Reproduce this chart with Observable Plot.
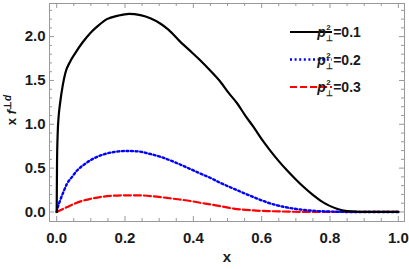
<!DOCTYPE html>
<html><head><meta charset="utf-8">
<script src="https://cdn.jsdelivr.net/npm/d3@7"></script>
<script src="https://cdn.jsdelivr.net/npm/@observablehq/plot@0.6"></script>
<style>body{margin:0;background:#fff}</style>
</head><body><div id="chart"></div>
<script>
// Series (x, x f)
const blackX = [0,0.001,0.003,0.006,0.010,0.018,0.025,0.040,0.054,0.075,0.098,0.120,0.147,0.180,0.212,0.245,0.274,0.303,0.327,0.362,0.390,0.420,0.450,0.479,0.505,0.528,0.552,0.576,0.600,0.625,0.650,0.674,0.700,0.723,0.748,0.772,0.796,0.820,0.850,0.880,0.900,1.0];
const blackY = [0,0.55,0.90,1.10,1.24,1.45,1.58,1.72,1.81,1.93,2.04,2.12,2.20,2.24,2.26,2.245,2.21,2.15,2.08,1.94,1.84,1.73,1.61,1.485,1.35,1.24,1.10,0.97,0.83,0.70,0.58,0.475,0.37,0.284,0.20,0.13,0.075,0.037,0.01,0.002,0,0];
const blueX = [0,0.003,0.010,0.020,0.030,0.045,0.059,0.080,0.108,0.140,0.170,0.205,0.240,0.270,0.303,0.350,0.391,0.425,0.449,0.480,0.518,0.560,0.576,0.615,0.660,0.713,0.760,0.800,0.850,1.0];
const blueY = [0,0.05,0.13,0.23,0.32,0.40,0.47,0.54,0.61,0.66,0.685,0.696,0.69,0.665,0.63,0.56,0.49,0.43,0.39,0.33,0.265,0.195,0.17,0.11,0.062,0.028,0.011,0.004,0,0];
const redX = [0,0.030,0.050,0.078,0.100,0.127,0.160,0.200,0.235,0.280,0.323,0.360,0.391,0.420,0.449,0.479,0.518,0.576,0.615,0.660,0.720,0.800,1.0];
const redY = [0,0.055,0.09,0.13,0.15,0.17,0.183,0.19,0.19,0.18,0.16,0.142,0.125,0.105,0.086,0.066,0.038,0.017,0.01,0.005,0.001,0,0];
const seriesLabels = ["0.1","0.2","0.3"];
const xMajor = [0,0.2,0.4,0.6,0.8,1.0];
const xMinor = [0.05,0.1,0.15,0.25,0.3,0.35,0.45,0.5,0.55,0.65,0.7,0.75,0.85,0.9,0.95];
const yMajor = [0,0.5,1.0,1.5,2.0];
const yMinor = [0.1,0.2,0.3,0.4,0.6,0.7,0.8,0.9,1.1,1.2,1.3,1.4,1.6,1.7,1.8,1.9,2.1,2.2,2.3];

const W = 409, H = 269, mt = 3, mr = 5, mb = 48, ml = 49;
const iH = H - mt - mb, iW = W - ml - mr;
const zip = (xs, ys) => xs.map((x, i) => ({x, y: ys[i]}));
const tc = "#999";
const font = "'Liberation Sans', Arial, sans-serif";
const txt = "#1a1a1a";

const chart = Plot.plot({
  width: W, height: H, marginTop: mt, marginRight: mr, marginBottom: mb, marginLeft: ml,
  style: {fontFamily: font, background: "#fff"},
  x: {domain: [-0.021, 1.018], ticks: xMajor, tickFormat: d3.format(".1f")},
  y: {domain: [-0.109, 2.378], ticks: yMajor, tickFormat: d3.format(".1f")},
  marks: [
    Plot.frame({stroke: tc}),
    Plot.tickX(xMajor, {x: d => d, insetTop: iH - 5, stroke: tc}),
    Plot.tickX(xMajor, {x: d => d, insetBottom: iH - 5, stroke: tc}),
    Plot.tickX(xMinor, {x: d => d, insetTop: iH - 3, stroke: tc}),
    Plot.tickX(xMinor, {x: d => d, insetBottom: iH - 3, stroke: tc}),
    Plot.tickY(yMajor, {y: d => d, insetRight: iW - 5, stroke: tc}),
    Plot.tickY(yMajor, {y: d => d, insetLeft: iW - 5, stroke: tc}),
    Plot.tickY(yMinor, {y: d => d, insetRight: iW - 3, stroke: tc}),
    Plot.tickY(yMinor, {y: d => d, insetLeft: iW - 3, stroke: tc}),
    Plot.axisX({tickSize: 0, tickPadding: 11, fontSize: 15, fontWeight: "bold", label: null, fill: txt}),
    Plot.axisY({tickSize: 0, tickPadding: 4, fontSize: 15, fontWeight: "bold", label: null, fill: txt}),
    Plot.text(["x"], {frameAnchor: "bottom", dy: 40, text: d => d, fontSize: 15, fontWeight: "bold", fill: txt}),
    Plot.line(zip(redX, redY), {x: "x", y: "y", stroke: "#ff0000", strokeWidth: 2.2, strokeDasharray: "7,3", curve: "monotone-x"}),
    Plot.line(zip(blueX, blueY), {x: "x", y: "y", stroke: "#0000ff", strokeWidth: 2.4, strokeDasharray: "2,2.6", curve: "monotone-x"}),
    Plot.line(zip(blackX, blackY), {x: "x", y: "y", stroke: "#000", strokeWidth: 2.2, curve: "monotone-x"})
  ]
});
document.getElementById("chart").appendChild(chart);

const svg = d3.select(chart);
// y axis label: x f^{⊥d}
const yl = svg.append("text")
  .attr("transform", "translate(16,110) rotate(-90)")
  .attr("text-anchor", "middle")
  .attr("font-family", font).attr("font-weight", "bold").attr("font-size", 13).attr("fill", txt);
yl.append("tspan").text("x ");
yl.append("tspan").attr("font-style", "italic").text("f");
yl.append("tspan").attr("font-size", 10).attr("dy", -5).text("⊥");
yl.append("tspan").attr("font-size", 10).attr("font-style", "italic").text("d");

// legend
const styles = [
  {stroke: "#000", dash: null, w: 2.2},
  {stroke: "#0000ff", dash: "2,2.6", w: 2.4},
  {stroke: "#ff0000", dash: "7,3", w: 2.2}
];
const rows = [32, 59.5, 87];
seriesLabels.forEach((lab, i) => {
  const y = rows[i];
  const s = styles[i];
  svg.append("line").attr("x1", 290).attr("x2", 332).attr("y1", y).attr("y2", y)
    .attr("stroke", s.stroke).attr("stroke-width", s.w).attr("stroke-dasharray", s.dash);
  const t = svg.append("text").attr("x", 339).attr("y", y + 5)
    .attr("font-family", font).attr("font-weight", "bold").attr("font-size", 14).attr("fill", txt);
  t.append("tspan").attr("font-style", "italic").text("p");
  t.append("tspan").attr("font-size", 8).attr("dx", 0.5).attr("dy", -7).text("2");
  t.append("tspan").attr("font-size", 8).attr("dx", -5).attr("dy", 11).text("⊥");
  t.append("tspan").attr("dx", 0.5).attr("dy", -4).text("=" + lab);
});
</script>
</body></html>
